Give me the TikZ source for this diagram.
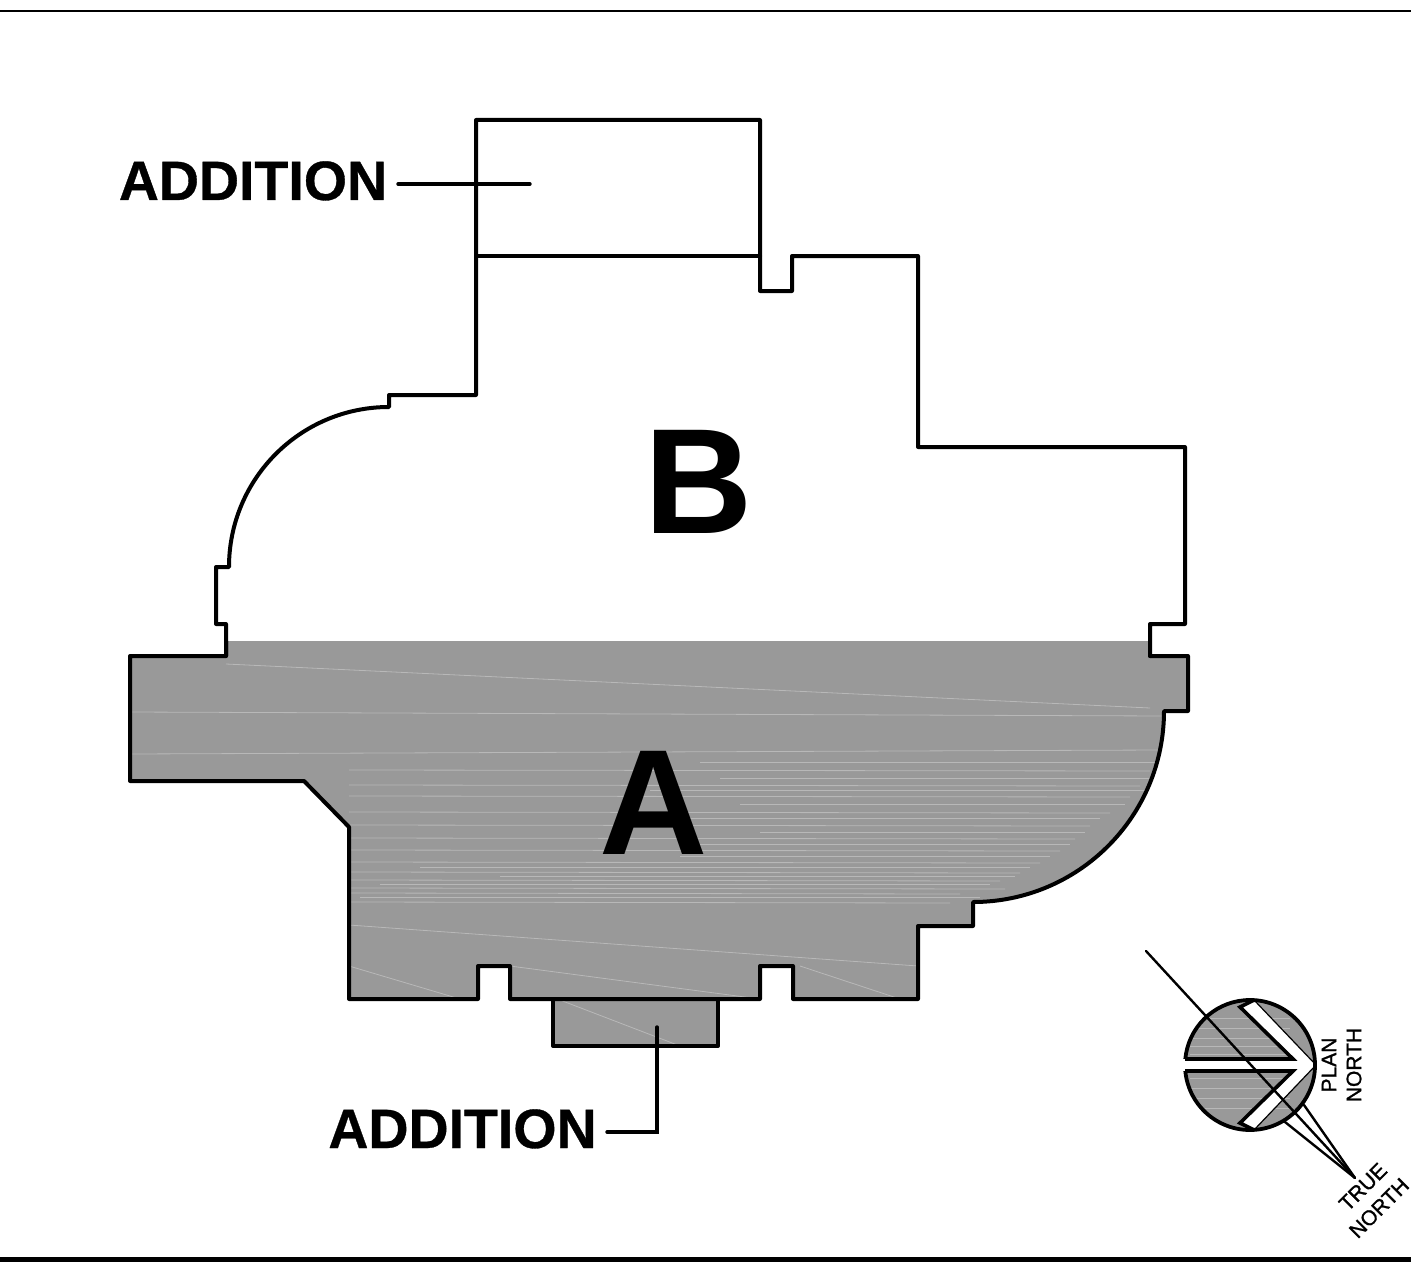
\documentclass[tikz,border=0pt]{standalone}
\usepackage{fontspec}
\setmainfont{Liberation Sans}
\newfontfamily\heavyfont[FakeBold=0.6]{Liberation Sans Bold}
\newfontfamily\smallfont[FakeBold=1.2]{Liberation Sans}
\definecolor{planGray}{HTML}{999999}
\definecolor{streak}{HTML}{B8B8B8}
\tikzset{
  outline/.style={draw=black,line width=4pt,line join=round,line cap=round},
  leader/.style={draw=black,line width=3.4pt,line join=miter,line cap=round},
  thinline/.style={draw=black,line width=2.4pt,line cap=round},
  bigletter/.style={font=\bfseries\fontsize{150}{150}\selectfont,inner sep=0pt,anchor=base},
  addlabel/.style={font=\heavyfont\fontsize{55.5}{55.5}\selectfont,inner sep=0pt,anchor=base},
  smalllabel/.style={font=\smallfont\fontsize{21}{21}\selectfont,inner sep=0pt},
  hair/.style={draw=streak,line width=0.8pt}
}
\def\bldgA{(130,656) -- (226,656) -- (226,641) -- (1150,641) -- (1150,656) -- (1188,656) -- (1188,711) -- (1164,711) arc[start angle=0,end angle=-90,radius=191pt] -- (973,926) -- (918,926) -- (918,999) -- (793,999) -- (793,966) -- (760,966) -- (760,999) -- (510,999) -- (510,966) -- (478,966) -- (478,999) -- (349,999) -- (349,827) -- (304,781) -- (130,781) -- cycle}
\begin{document}
\begin{tikzpicture}[x=1pt,y=-1pt]
\useasboundingbox (0,0) rectangle (1411,1268);
\fill[white] (0,0) rectangle (1411,1268);
% frame rules
\draw[draw=black,line width=2.8pt] (0,11) -- (1411,11);
\draw[draw=black,line width=5pt] (0,1259) -- (1411,1259);
% building A fill
\fill[planGray] \bldgA;
\fill[planGray] (553,999) rectangle (718,1046);
% streaks
\begin{scope}
\clip \bldgA;
\draw[hair] (226,664) -- (1150,708);
\draw[hair] (130,712) -- (1164,716);
\draw[hair] (130,754) -- (1160,750);
\foreach \y/\x in {770/1150,785/1140,796/1130,812/1110,825/1090,838/1075,850/1060,862/1040,872/1020,880/1000,888/1005,893/960,902/950}{
  \draw[hair] (349,\y) -- (\x,\y+1);
}
\foreach \y/\a/\b in {762/700/1160,778/720/1155,790/650/1145,804/740/1125,818/660/1100,832/760/1085,844/700/1070,856/680/1050,867/420/1030,876/500/1015,884/380/990,897/360/980}{
  \draw[hair] (\a,\y) -- (\b,\y);
}
\draw[hair] (349,925) -- (918,966);
\draw[hair] (510,966) -- (760,999);
\draw[hair] (349,966) -- (460,999);
\draw[hair] (800,966) -- (900,999);
\end{scope}
\begin{scope}
\clip (553,999) rectangle (718,1046);
\draw[hair] (560,1000) -- (680,1046);
\end{scope}
% building A outline (top edge left open)
\draw[outline] (226,641) -- (226,656) -- (130,656) -- (130,781) -- (304,781) -- (349,827) -- (349,999) -- (478,999) -- (478,966) -- (510,966) -- (510,999) -- (760,999) -- (760,966) -- (793,966) -- (793,999) -- (918,999) -- (918,926) -- (973,926) -- (973,902) arc[start angle=-90,end angle=0,radius=191pt] -- (1164,711) -- (1188,711) -- (1188,656) -- (1150,656);
\draw[outline] (553,999) -- (553,1046) -- (718,1046) -- (718,999);
% building B outline
\draw[outline] (226,656) -- (226,624) -- (216,624) -- (216,567) -- (229,567) arc[start angle=180,end angle=90,radius=160pt] -- (389,395) -- (476,395) -- (476,120) -- (760,120) -- (760,291) -- (792,291) -- (792,256) -- (918,256) -- (918,447) -- (1185,447) -- (1185,624) -- (1150,624) -- (1150,656);
\draw[outline] (476,256) -- (760,256);
% letters
\node[bigletter] (letterB) at (698.5,533) {B};
\node[bigletter] (letterA) at (653.5,854) {A};
% labels and leaders
\node[addlabel] (addTop) at (253,200) {ADDITION};
\node[addlabel] (addBot) at (462.5,1148) {ADDITION};
\coordinate (leadTopS) at (398,184);
\coordinate (leadTopE) at (530,184);
\coordinate (leadBotS) at (607,1132);
\coordinate (leadBotE) at (657,1027);
\draw[leader] (leadTopS) -- (leadTopE);
\draw[leader] (leadBotS) -| (leadBotE);
% compass
\coordinate (cc) at (1250,1065);
\coordinate (apex) at (1355,1178);
\coordinate (tnStart) at (1146,951);
\coordinate (tnA) at (1285,1122);
\coordinate (tnB) at (1304,1105);
\fill[planGray] (cc) circle[radius=65pt];
\begin{scope}
\clip (cc) circle[radius=65pt];
\foreach \y in {1018,1028,1038,1046,1054,1078,1088,1098,1108}{\draw[hair] (1190,\y) -- (1290,\y);}
\end{scope}
\fill[white] (1180,1059) -- (1293,1059) -- (1240,1007) -- (1254,1000) -- (1316,1065) -- (1254,1130) -- (1240,1123) -- (1293,1071) -- (1180,1071) -- cycle;
\draw[draw=black,line width=3.8pt] (1185.3,1071) arc[start angle=185.3,end angle=534.7,radius=65pt];
\draw[draw=black,line width=3.6pt,line join=miter] (1185,1059) -- (1293,1059) -- (1240,1007) -- (1254,1000);
\draw[draw=black,line width=3.6pt,line join=miter] (1185,1071) -- (1293,1071) -- (1240,1123) -- (1254,1130);
\draw[draw=black,line width=1.2pt] (1254,1000) -- (1316,1065) -- (1254,1130);
\draw[thinline] (tnStart) -- (apex);
\draw[thinline] (tnA) -- (apex);
\draw[thinline] (tnB) -- (apex);
\node[smalllabel,rotate=90] (planW) at (1329,1065) {PLAN};
\node[smalllabel,rotate=90] (northP) at (1354,1065) {NORTH};
\node[smalllabel,rotate=45] (trueW) at (1363,1187) {TRUE};
\node[smalllabel,rotate=45] (northT) at (1379,1208) {NORTH};
\end{tikzpicture}
\end{document}
